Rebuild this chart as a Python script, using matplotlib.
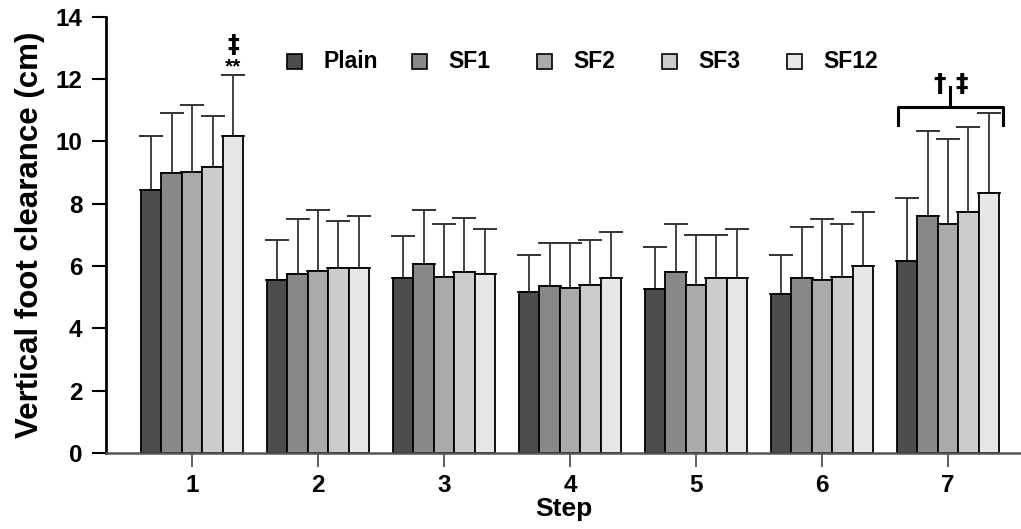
import matplotlib.pyplot as plt
import matplotlib.patches as mpatches
import numpy as np

plt.rcParams['font.family'] = ['Liberation Sans', 'DejaVu Sans']
plt.rcParams['font.weight'] = 'bold'

steps = ['1', '2', '3', '4', '5', '6', '7']
conditions = ['Plain', 'SF1', 'SF2', 'SF3', 'SF12']
colors = ['#4d4d4d', '#888888', '#aaaaaa', '#cccccc', '#e6e6e6']

# mean clearance per step, one list per condition
plain = [8.45, 5.55, 5.6, 5.15, 5.25, 5.1, 6.15]
sf1 = [8.99, 5.75, 6.05, 5.35, 5.8, 5.6, 7.6]
sf2 = [9.02, 5.85, 5.65, 5.3, 5.4, 5.55, 7.35]
sf3 = [9.18, 5.95, 5.8, 5.4, 5.6, 5.65, 7.74]
sf12 = [10.18, 5.95, 5.75, 5.6, 5.6, 6.0, 8.35]

# standard deviations (upper error bar only)
plain_sd = [1.73, 1.3, 1.35, 1.2, 1.35, 1.25, 2.05]
sf1_sd = [1.93, 1.75, 1.75, 1.4, 1.55, 1.65, 2.74]
sf2_sd = [2.16, 1.95, 1.7, 1.45, 1.6, 1.95, 2.73]
sf3_sd = [1.64, 1.5, 1.75, 1.45, 1.4, 1.7, 2.73]
sf12_sd = [1.96, 1.65, 1.45, 1.5, 1.6, 1.75, 2.57]

means = [plain, sf1, sf2, sf3, sf12]
sds = [plain_sd, sf1_sd, sf2_sd, sf3_sd, sf12_sd]

fig = plt.figure(figsize=(10.21, 5.29), dpi=100)
ax = fig.add_axes([0.104, 0.144, 0.896, 0.824])

x = np.arange(1, len(steps) + 1)
w = 0.162
for i in range(5):
    pos = x + (i - 2) * w
    ax.bar(pos, means[i], w, color=colors[i], edgecolor='black', linewidth=1.3, zorder=2)
    ax.errorbar(pos, means[i], yerr=[np.zeros(len(steps)), sds[i]], fmt='none',
                ecolor='#333333', elinewidth=1.3, capsize=8.7, capthick=1.4, zorder=1)

ax.set_xlim(0.318, 7.58)
ax.set_ylim(0, 14)
ax.set_yticks(range(0, 15, 2))
ax.set_xticks(x)
ax.set_xticklabels(steps)
ax.tick_params(axis='y', direction='out', length=10, width=1.5, labelsize=17.5, pad=7)
ax.tick_params(axis='x', direction='out', length=10, width=1.3, color='#555555',
               labelsize=17.5, pad=5)
for lab in ax.get_xticklabels() + ax.get_yticklabels():
    lab.set_fontweight('bold')

ax.spines['top'].set_visible(False)
ax.spines['right'].set_visible(False)
ax.spines['left'].set_linewidth(2)
ax.spines['bottom'].set_linewidth(1.8)
ax.spines['bottom'].set_color('#555555')

ax.set_ylabel('Vertical foot clearance (cm)', fontsize=22.5, fontweight='bold', labelpad=8)
ax.set_xlabel('Step', fontsize=19, fontweight='bold', labelpad=0)

# legend laid out in evenly spaced columns
lx0, lstep, ly = 0.198, 0.1366, 0.897
sq_w, sq_h = 0.0164, 0.0344
for i in range(5):
    lx = lx0 + i * lstep
    ax.add_patch(mpatches.Rectangle((lx, ly - sq_h / 2), sq_w, sq_h, transform=ax.transAxes,
                                    facecolor=colors[i], edgecolor='black', lw=1.2,
                                    clip_on=False))
    ax.text(lx + 0.0393, ly, conditions[i], transform=ax.transAxes, ha='left',
            va='center', fontsize=16.5, fontweight='bold')

# significance marks
ax.text(1 + 2 * w, 12.1, '**', ha='center', va='bottom', fontsize=15, fontweight='bold')
ax.text(1 + 2 * w, 12.7, '‡', ha='center', va='bottom', fontsize=17, fontweight='bold',
        family=['DejaVu Sans'])
bx0, bx1 = 6.603, 7.437
bmid = (bx0 + bx1) / 2
ax.plot([bx0, bx0, bx1, bx1], [10.53, 11.11, 11.11, 10.53], color='black', lw=2.2,
        clip_on=False)
ax.plot([bmid, bmid], [11.11, 11.75], color='black', lw=2.2, clip_on=False)
ax.text(bmid - 0.04, 11.62, '†', ha='right', va='baseline', fontsize=18, fontweight='bold',
        family=['DejaVu Sans'])
ax.text(bmid + 0.04, 11.62, '‡', ha='left', va='baseline', fontsize=18, fontweight='bold',
        family=['DejaVu Sans'])

fig.savefig('out.png', dpi=100)
